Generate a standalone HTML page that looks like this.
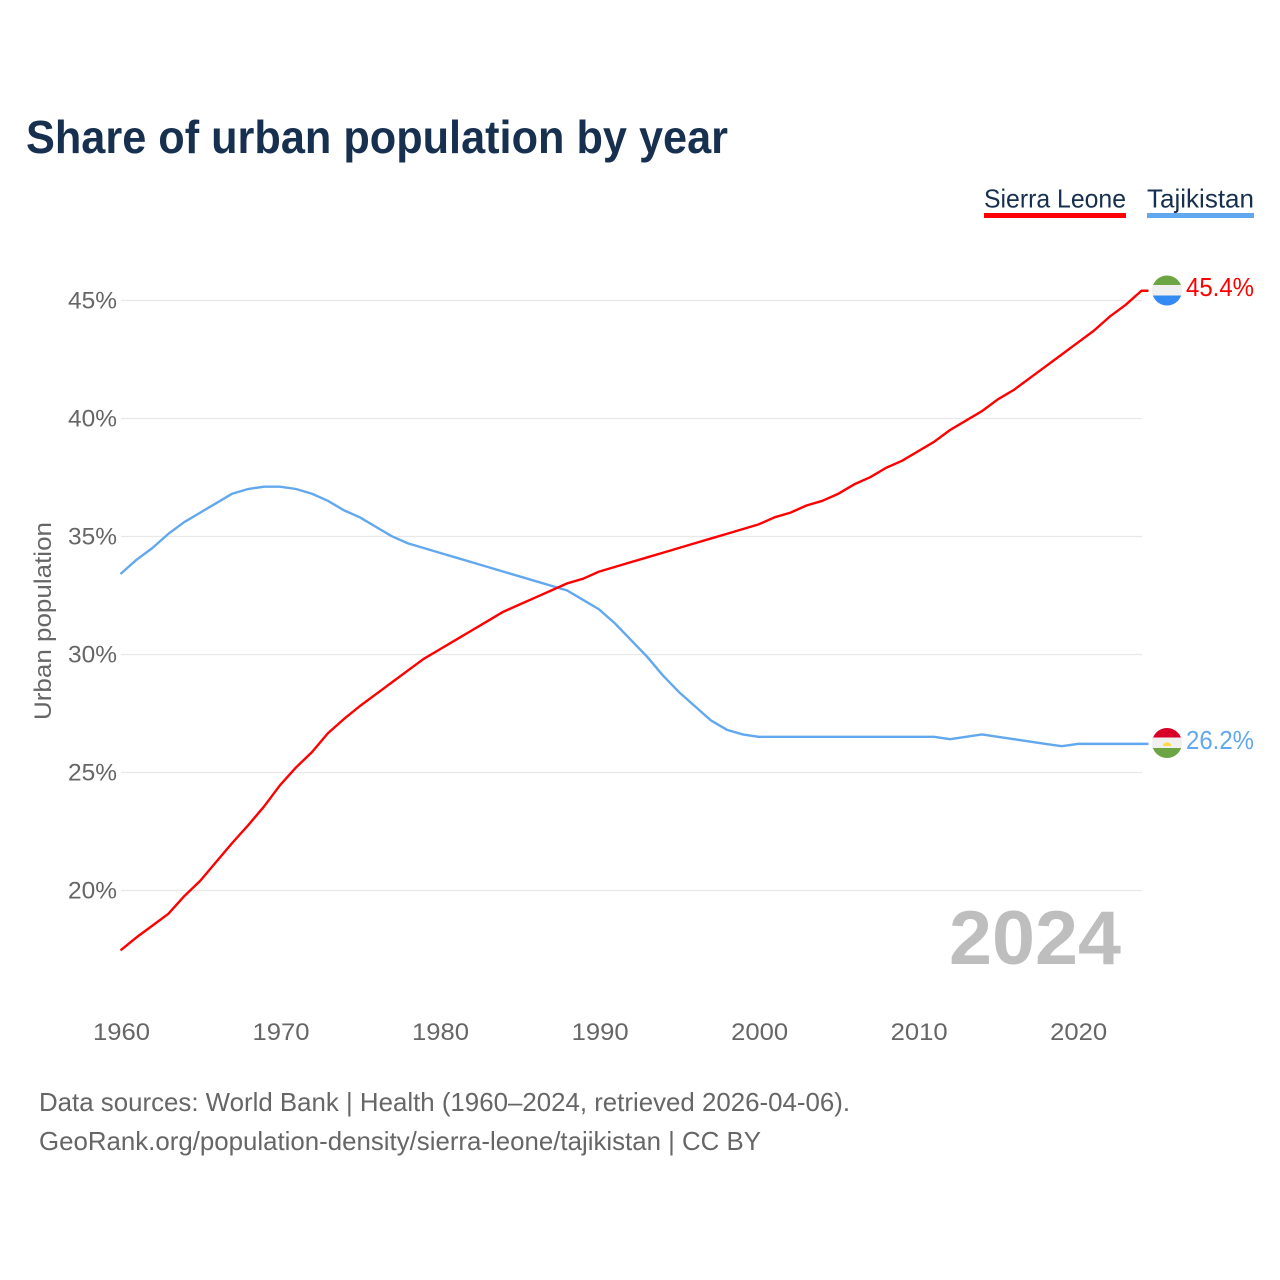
<!DOCTYPE html>
<html lang="en">
<head>
<meta charset="utf-8">
<title>Share of urban population by year</title>
<style>
html,body{margin:0;padding:0;background:#fff;}
svg{display:block;font-family:"Liberation Sans",sans-serif;}
</style>
</head>
<body>
<svg id="chart" xmlns="http://www.w3.org/2000/svg" width="1280" height="1280" viewBox="0 0 1280 1280">
  <defs>
    <clipPath id="flag-clip-sl"><circle cx="1167" cy="290.5" r="15"/></clipPath>
    <clipPath id="flag-clip-tj"><circle cx="1167" cy="743" r="15"/></clipPath>
  </defs>
  <rect width="1280" height="1280" fill="#fff"/>
  <text x="26" y="153" font-size="46" font-weight="700" fill="#18304f" textLength="702" lengthAdjust="spacingAndGlyphs">Share of urban population by year</text>

  <g>
    <text x="984" y="207.5" font-size="26" fill="#18304f" textLength="142" lengthAdjust="spacingAndGlyphs">Sierra Leone</text>
    <rect x="984" y="213" width="142" height="5" fill="#ff0000"/>
  </g>
  <g>
    <text x="1147" y="207.5" font-size="26" fill="#18304f" textLength="107" lengthAdjust="spacingAndGlyphs">Tajikistan</text>
    <rect x="1147" y="213" width="107" height="5" fill="#62a8ee"/>
  </g>

  <text transform="translate(51,621) rotate(-90)" text-anchor="middle" font-size="24" fill="#666" textLength="198" lengthAdjust="spacingAndGlyphs">Urban population</text>

  <g id="grid"></g>
  <g id="yticks"></g>
  <g id="xticks"></g>

  <text x="949" y="964" font-size="76" font-weight="700" fill="#bebebe" textLength="172" lengthAdjust="spacingAndGlyphs">2024</text>

  <g id="series"></g>

  <g clip-path="url(#flag-clip-sl)">
    <rect x="1152" y="275" width="30" height="11" fill="#6da544"/>
    <rect x="1152" y="285" width="30" height="11" fill="#f0f0f0"/>
    <rect x="1152" y="295.5" width="30" height="11" fill="#338af3"/>
  </g>
  <g clip-path="url(#flag-clip-tj)">
    <rect x="1152" y="728" width="30" height="11" fill="#d80027"/>
    <rect x="1152" y="737.5" width="30" height="11" fill="#f0f0f0"/>
    <rect x="1152" y="748" width="30" height="11" fill="#6da544"/>
    <path d="M1163 746h8v-2l-4-2-4 2z" fill="#ffda44"/>
  </g>

  <text id="value-sl" x="1186" y="296" font-size="26" fill="#ff0000" textLength="68" lengthAdjust="spacingAndGlyphs"></text>
  <text id="value-tj" x="1186" y="749" font-size="26" fill="#62a8ee" textLength="68" lengthAdjust="spacingAndGlyphs"></text>

  <text x="39" y="1111" font-size="26" fill="#666" textLength="811" lengthAdjust="spacingAndGlyphs">Data sources: World Bank | Health (1960–2024, retrieved 2026-04-06).</text>
  <text x="39" y="1150" font-size="26" fill="#666" textLength="722" lengthAdjust="spacingAndGlyphs">GeoRank.org/population-density/sierra-leone/tajikistan | CC BY</text>
</svg>
<script>
const startYear = 1960;
const sierraLeone = [17.45,18.0,18.5,19.0,19.75,20.4,21.2,22.0,22.75,23.55,24.45,25.2,25.85,26.65,27.25,27.8,28.3,28.8,29.3,29.8,30.2,30.6,31.0,31.4,31.8,32.1,32.4,32.7,33.0,33.2,33.5,33.7,33.9,34.1,34.3,34.5,34.7,34.9,35.1,35.3,35.5,35.8,36.0,36.3,36.5,36.8,37.2,37.5,37.9,38.2,38.6,39.0,39.5,39.9,40.3,40.8,41.2,41.7,42.2,42.7,43.2,43.7,44.3,44.8,45.4];
const tajikistan = [33.4,34.0,34.5,35.1,35.6,36.0,36.4,36.8,37.0,37.1,37.1,37.0,36.8,36.5,36.1,35.8,35.4,35.0,34.7,34.5,34.3,34.1,33.9,33.7,33.5,33.3,33.1,32.9,32.7,32.3,31.9,31.3,30.6,29.9,29.1,28.4,27.8,27.2,26.8,26.6,26.5,26.5,26.5,26.5,26.5,26.5,26.5,26.5,26.5,26.5,26.5,26.5,26.4,26.5,26.6,26.5,26.4,26.3,26.2,26.1,26.2,26.2,26.2,26.2,26.2];
const yTicks = [20,25,30,35,40,45];
const xTicks = [1960,1970,1980,1990,2000,2010,2020];

const NS = 'http://www.w3.org/2000/svg';
function xScale(year){ return 120.5 + (year - 1960) * 15.953; }
function yScale(v){ return 890.2 - (v - 20) * 23.6; }
function make(tag, attrs, parent, text){
  const el = document.createElementNS(NS, tag);
  for (const k in attrs) el.setAttribute(k, attrs[k]);
  if (text !== undefined) el.textContent = text;
  parent.appendChild(el);
  return el;
}
const grid = document.getElementById('grid');
const yGroup = document.getElementById('yticks');
const xGroup = document.getElementById('xticks');
const seriesGroup = document.getElementById('series');

yTicks.forEach(function(t){
  const line = make('line', {x1:121, x2:1142, y1:yScale(t)+0.3, y2:yScale(t)+0.3, stroke:'#e8e8e8', 'stroke-width':1.3}, grid);
  
  
  const label = make('text', {x:117, y:yScale(t)+8.3, 'text-anchor':'end', 'font-size':24, fill:'#666', textLength:49, lengthAdjust:'spacingAndGlyphs'}, yGroup, t + '%');
  
  
});
xTicks.forEach(function(t){
  const label = make('text', {x:xScale(t)+1, y:1040, 'text-anchor':'middle', 'font-size':24, fill:'#666', textLength:57, lengthAdjust:'spacingAndGlyphs'}, xGroup, String(t));
  
  
});
function drawSeries(values, color, name){
  const pts = values.map(function(v, i){ return xScale(startYear + i).toFixed(2) + ',' + yScale(v).toFixed(2); });
  const last = values[values.length - 1];
  pts.push((xScale(startYear + values.length - 1) + 7).toFixed(2) + ',' + yScale(last).toFixed(2));
  const line = make('polyline', {points:pts.join(' '), fill:'none', stroke:color, 'stroke-width':2.4, 'stroke-linejoin':'round'}, seriesGroup);
  
  
}
drawSeries(tajikistan, '#62a8ee', 'line-tajikistan');
drawSeries(sierraLeone, '#ff0000', 'line-sierra-leone');
document.getElementById('value-sl').textContent = sierraLeone[sierraLeone.length-1].toFixed(1) + '%';
document.getElementById('value-tj').textContent = tajikistan[tajikistan.length-1].toFixed(1) + '%';
</script>
</body>
</html>
